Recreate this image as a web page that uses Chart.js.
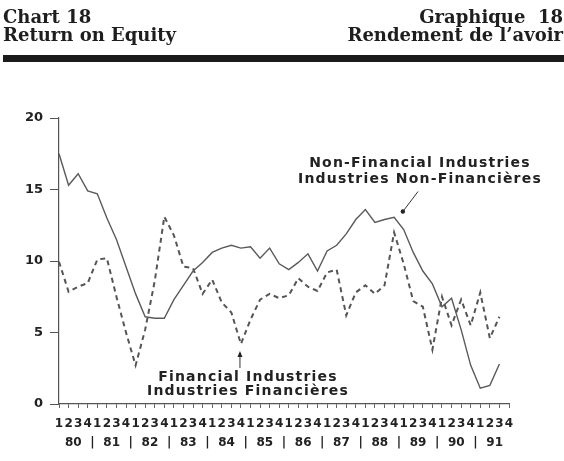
<!DOCTYPE html>
<html>
<head>
<meta charset="utf-8">
<script src="https://cdn.jsdelivr.net/npm/chart.js@4.4.0/dist/chart.umd.min.js"></script>
<style>
  html, body { margin: 0; padding: 0; background: #fff; }
  #wrap { position: relative; width: 564px; height: 461px; overflow: hidden; background: #fff; }
  #chart { position: absolute; left: 0; top: 0; }
  .hd { position: absolute; top: 8px; font-family: "DejaVu Serif", serif; font-weight: bold;
        font-size: 18px; line-height: 18px; color: #1e1e1e; white-space: pre; }
  #hdLeft { left: 3px; }
  #hdRight { right: 1px; text-align: right; }
  #rule { position: absolute; left: 3px; right: 0; top: 55px; height: 7px; background: #1b1b1b; }
</style>
</head>
<body>
<div id="wrap">
  <canvas id="chart" width="564" height="461"></canvas>
  <div class="hd" id="hdLeft">Chart 18
Return on Equity</div>
  <div class="hd" id="hdRight">Graphique  18
Rendement de l’avoir</div>
  <div id="rule"></div>
</div>
<script>
// quarters 1980Q1 .. 1991Q4 (last quarter has no data)
const years = ['80', '81', '82', '83', '84', '85', '86', '87', '88', '89', '90', '91'];
const quarters = ['1', '2', '3', '4'];

// Non-Financial Industries, % (solid)
const nonFinancial = [
  17.5, 15.3, 16.1, 14.9,
  14.7, 13.0, 11.5, 9.6,
  7.7, 6.1, 6.0, 6.0,
  7.3, 8.3, 9.3, 9.9,
  10.6, 10.9, 11.1, 10.9,
  11.0, 10.2, 10.9, 9.8,
  9.4, 9.9, 10.5, 9.3,
  10.7, 11.1, 11.9, 12.9,
  13.6, 12.7, 12.9, 13.05,
  12.2, 10.6, 9.3, 8.4,
  6.8, 7.4, 5.2, 2.7,
  1.1, 1.3, 2.8
];

// Financial Industries, % (dashed)
const financial = [
  9.95, 7.85, 8.2, 8.45,
  10.1, 10.2, 7.5, 5.0,
  2.7, 5.2, 8.6, 13.1,
  11.8, 9.6, 9.5, 7.7,
  8.7, 7.1, 6.4, 4.2,
  5.9, 7.3, 7.7, 7.4,
  7.6, 8.8, 8.2, 7.9,
  9.2, 9.4, 6.2, 7.8,
  8.3, 7.7, 8.3, 12.0,
  9.8, 7.2, 6.8, 3.8,
  7.5, 5.5, 7.3, 5.5,
  7.8, 4.6, 6.1
];

const yMin = 0, yMax = 20, yStep = 5;

const labels = years.flatMap(() => quarters);

const inkColor = '#222';
const sansBold = '"DejaVu Sans", sans-serif';

// year row under the quarter numbers
const yearRow = {
  id: 'yearRow',
  afterDraw(chart) {
    const x = chart.scales.x;
    const ctx = chart.ctx;
    const yPos = 443;
    ctx.save();
    ctx.fillStyle = inkColor;
    ctx.font = 'bold 12px ' + sansBold;
    ctx.textAlign = 'center';
    ctx.textBaseline = 'middle';
    years.forEach((yr, i) => {
      ctx.fillText(yr, x.getPixelForValue(i * 4 + 1.5), yPos);
      if (i < years.length - 1) {
        ctx.fillText('|', x.getPixelForValue(i * 4 + 3.5), yPos);
      }
    });
    ctx.restore();
  }
};

// series captions with pointers (positions in data units)
const notes = [
  { lines: ['Non-Financial Industries', 'Industries Non-Financières'], x: 37.7, y: 16.85, gap: 16,
    from: [37.5, 14.86], to: [36.04, 13.57], end: 'dot' },
  { lines: ['Financial Industries', 'Industries Financières'], x: 19.74, y: 1.89, gap: 14.5,
    from: [18.9, 2.52], to: [18.9, 3.57], end: 'arrow' }
];

const captions = {
  id: 'captions',
  afterDatasetsDraw(chart) {
    const xs = chart.scales.x, ys = chart.scales.y;
    const ctx = chart.ctx;
    ctx.save();
    ctx.fillStyle = inkColor;
    ctx.strokeStyle = '#333';
    ctx.font = 'bold 14px ' + sansBold;
    ctx.letterSpacing = '1.2px';
    ctx.textAlign = 'center';
    ctx.textBaseline = 'middle';
    notes.forEach(n => {
      const cx = xs.getPixelForValue(n.x);
      const cy = ys.getPixelForValue(n.y);
      n.lines.forEach((t, k) => ctx.fillText(t, cx, cy + k * n.gap));
      const x1 = xs.getPixelForValue(n.from[0]), y1 = ys.getPixelForValue(n.from[1]);
      const x2 = xs.getPixelForValue(n.to[0]), y2 = ys.getPixelForValue(n.to[1]);
      ctx.lineWidth = 1;
      ctx.beginPath();
      ctx.moveTo(x1, y1);
      ctx.lineTo(x2, y2);
      ctx.stroke();
      if (n.end === 'dot') {
        ctx.beginPath();
        ctx.arc(x2 - 1.2, y2 + 1.5, 2.2, 0, Math.PI * 2);
        ctx.fill();
      } else {
        ctx.beginPath();
        ctx.moveTo(x2, y2 - 2);
        ctx.lineTo(x2 - 2.5, y2 + 4);
        ctx.lineTo(x2 + 2.5, y2 + 4);
        ctx.closePath();
        ctx.fill();
      }
    });
    ctx.restore();
  }
};

new Chart(document.getElementById('chart'), {
  type: 'line',
  data: {
    labels: labels,
    datasets: [
      {
        label: 'Non-Financial Industries',
        data: nonFinancial,
        borderColor: '#5a5a5a',
        borderWidth: 1.4,
        pointRadius: 0,
        tension: 0,
        fill: false
      },
      {
        label: 'Financial Industries',
        data: financial,
        borderColor: '#555',
        borderWidth: 2,
        borderDash: [5, 4],
        pointRadius: 0,
        tension: 0,
        fill: false
      }
    ]
  },
  options: {
    responsive: false,
    animation: false,
    layout: { padding: { top: 118, right: 55, bottom: 0, left: 0 } },
    plugins: {
      legend: { display: false },
      tooltip: { enabled: false },
      title: { display: false }
    },
    scales: {
      x: {
        type: 'category',
        offset: false,
        grid: { drawOnChartArea: false, tickLength: 4, color: '#666', lineWidth: 1 },
        border: { color: '#555', width: 1.2 },
        ticks: {
          autoSkip: false, maxRotation: 0, minRotation: 0, padding: 9,
          color: inkColor, font: { family: sansBold, weight: 'bold', size: 12 }
        },
        afterFit(scale) { scale.height = 57; }
      },
      y: {
        min: yMin, max: yMax,
        grid: { drawOnChartArea: false, tickLength: 9, color: '#555', lineWidth: 1 },
        border: { color: '#555', width: 1.2 },
        ticks: {
          stepSize: yStep, padding: 7,
          color: inkColor, font: { family: sansBold, weight: 'bold', size: 13 }
        },
        afterFit(scale) { scale.width = 59; }
      }
    }
  },
  plugins: [yearRow, captions]
});
</script>
</body>
</html>
